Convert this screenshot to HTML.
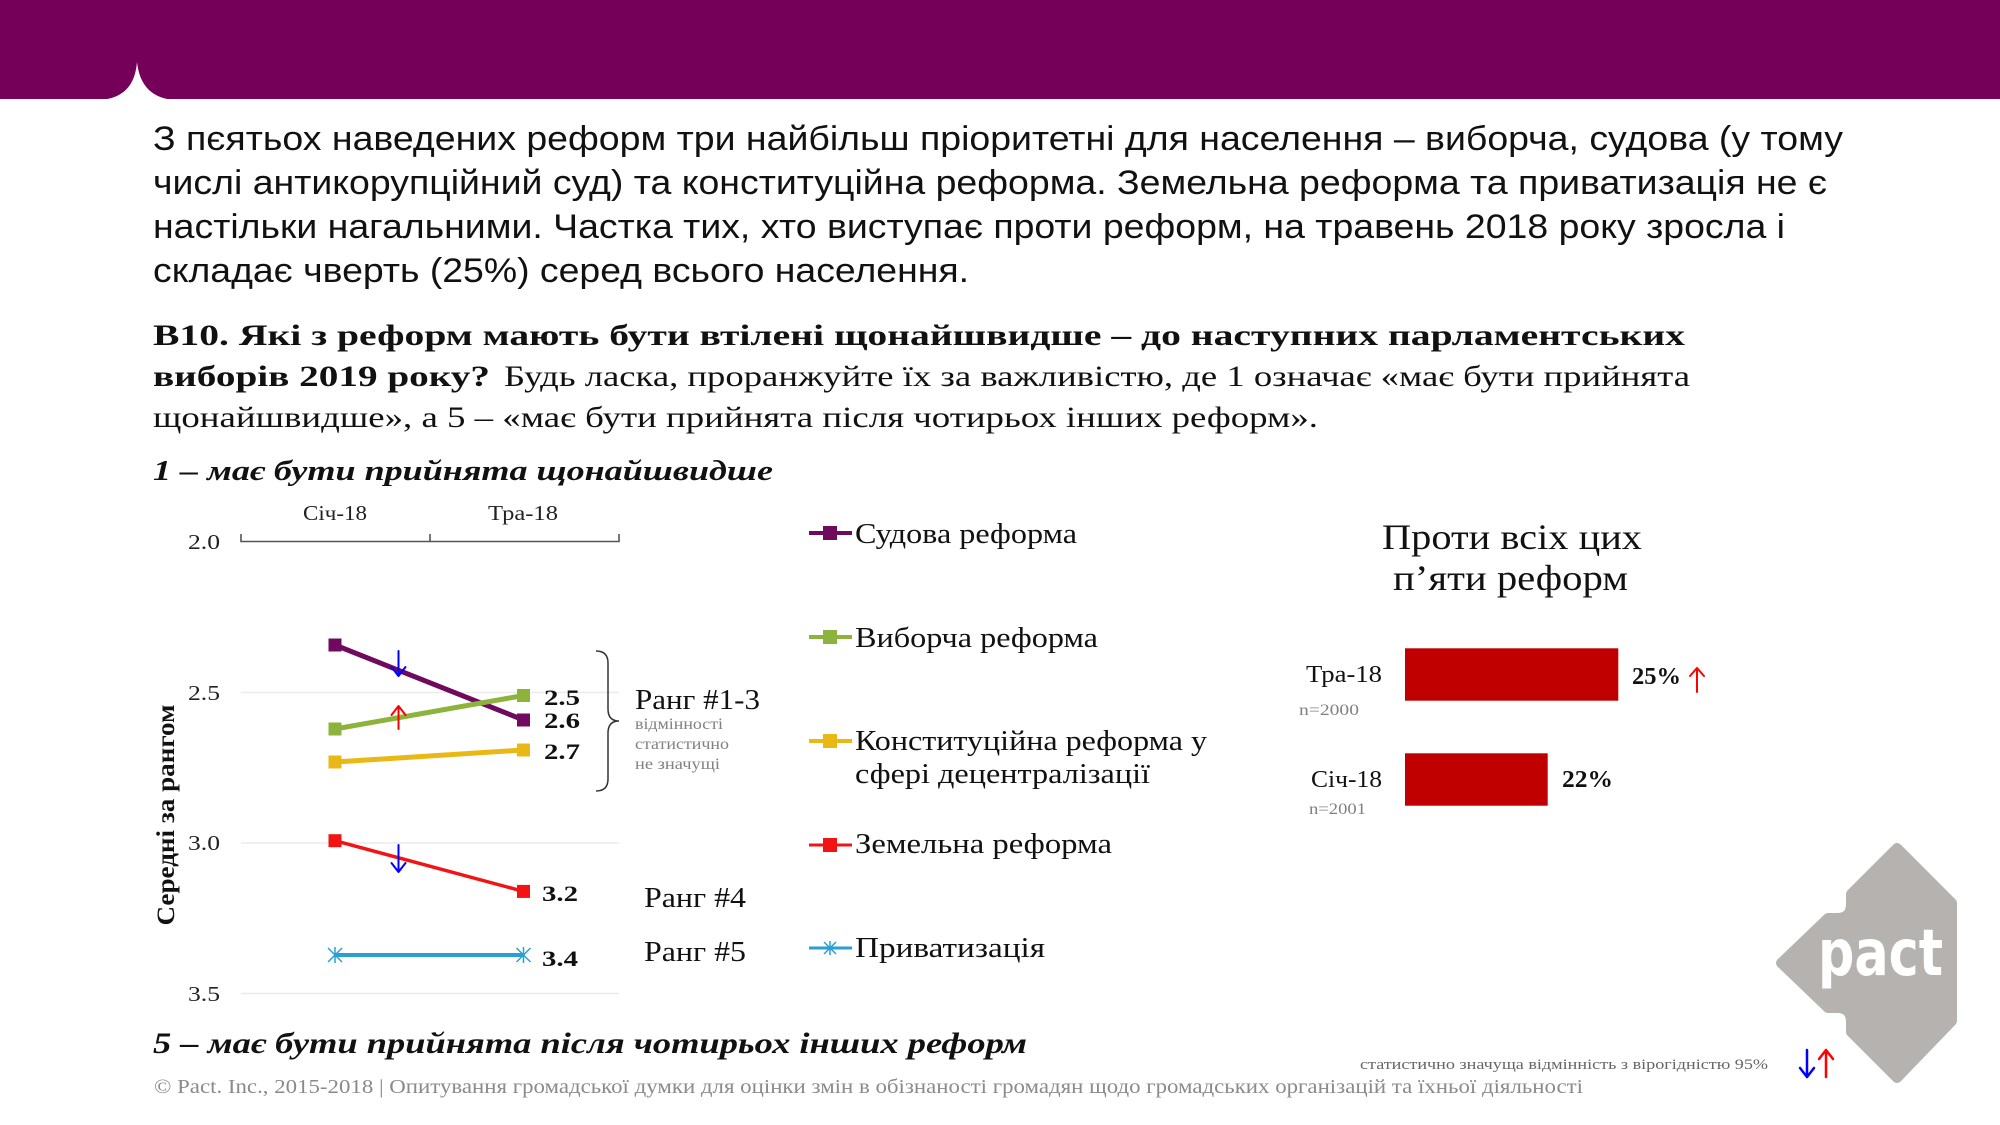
<!DOCTYPE html>
<html>
<head>
<meta charset="utf-8">
<style>
html,body{margin:0;padding:0;background:#fff;}
svg{display:block;}
.s{font-family:"Liberation Sans","DejaVu Sans",sans-serif;}
.f{font-family:"Liberation Serif","DejaVu Serif",serif;}
</style>
</head>
<body>
<svg width="2000" height="1125" viewBox="0 0 2000 1125" xmlns="http://www.w3.org/2000/svg">
<rect x="0" y="0" width="2000" height="1125" fill="#ffffff"/>
<!-- header band -->
<rect x="0" y="0" width="2000" height="99" fill="#74005a"/>
<path d="M98,100 Q134,99 137,62 Q141,99 177,100 Z" fill="#ffffff"/>

<!-- paragraph -->
<g class="s" font-size="34" fill="#111">
<text x="153" y="150" textLength="1690" lengthAdjust="spacingAndGlyphs">З пєятьох наведених реформ три найбільш пріоритетні для населення – виборча, судова (у тому</text>
<text x="153" y="194" textLength="1674" lengthAdjust="spacingAndGlyphs">числі антикорупційний суд) та конституційна реформа. Земельна реформа та приватизація не є</text>
<text x="153" y="238" textLength="1632" lengthAdjust="spacingAndGlyphs">настільки нагальними. Частка тих, хто виступає проти реформ, на травень 2018 року зросла і</text>
<text x="153" y="282" textLength="816" lengthAdjust="spacingAndGlyphs">складає чверть (25%) серед всього населення.</text>
</g>

<!-- question -->
<g class="f" font-size="30" fill="#111">
<text x="153" y="345" font-weight="bold" textLength="1532" lengthAdjust="spacingAndGlyphs">B10. Які з реформ мають бути втілені щонайшвидше – до наступних парламентських</text>
<text x="153" y="386" font-weight="bold" textLength="337" lengthAdjust="spacingAndGlyphs">виборів 2019 року?</text>
<text x="504" y="386" textLength="1186" lengthAdjust="spacingAndGlyphs">Будь ласка, проранжуйте їх за важливістю, де 1 означає «має бути прийнята</text>
<text x="153" y="427" textLength="1165" lengthAdjust="spacingAndGlyphs">щонайшвидше», а 5 – «має бути прийнята після чотирьох інших реформ».</text>
<text x="153" y="480" font-size="29" font-weight="bold" font-style="italic" textLength="620" lengthAdjust="spacingAndGlyphs">1 – має бути прийнята щонайшвидше</text>
</g>

<!-- line chart -->
<g>
<line x1="241" y1="692.5" x2="619" y2="692.5" stroke="#ebebeb" stroke-width="1.5"/>
<line x1="241" y1="843" x2="619" y2="843" stroke="#ebebeb" stroke-width="1.5"/>
<line x1="241" y1="993.5" x2="619" y2="993.5" stroke="#ebebeb" stroke-width="1.5"/>
<path d="M241,534 L241,541.5 L619,541.5 L619,534 M430,534 L430,541.5" fill="none" stroke="#555" stroke-width="1.6"/>
</g>
<g class="f" font-size="21" fill="#222">
<text x="303" y="520" textLength="64" lengthAdjust="spacingAndGlyphs">Січ-18</text>
<text x="488" y="520" textLength="70" lengthAdjust="spacingAndGlyphs">Тра-18</text>
<text x="188" y="549" textLength="32" lengthAdjust="spacingAndGlyphs">2.0</text>
<text x="188" y="700" textLength="32" lengthAdjust="spacingAndGlyphs">2.5</text>
<text x="188" y="850" textLength="32" lengthAdjust="spacingAndGlyphs">3.0</text>
<text x="188" y="1001" textLength="32" lengthAdjust="spacingAndGlyphs">3.5</text>
</g>
<text class="f" transform="translate(174,815) rotate(-90)" text-anchor="middle" font-size="25" font-weight="bold" fill="#111" textLength="221" lengthAdjust="spacingAndGlyphs">Середні за рангом</text>

<!-- series -->
<line x1="335" y1="645" x2="523.5" y2="720" stroke="#6f0a5f" stroke-width="5"/>
<line x1="335" y1="729" x2="523.5" y2="695.5" stroke="#8db33c" stroke-width="5"/>
<line x1="335" y1="762" x2="523.5" y2="750" stroke="#e9b814" stroke-width="5"/>
<line x1="335" y1="840.7" x2="523.5" y2="891.4" stroke="#f21414" stroke-width="3.5"/>
<line x1="335" y1="955" x2="523.5" y2="955" stroke="#2a9fd6" stroke-width="4"/>
<rect x="328.5" y="638.5" width="13" height="13" fill="#6f0a5f"/>
<rect x="517" y="713.5" width="13" height="13" fill="#6f0a5f"/>
<rect x="328.5" y="722.5" width="13" height="13" fill="#8db33c"/>
<rect x="517" y="689" width="13" height="13" fill="#8db33c"/>
<rect x="328.5" y="755.5" width="13" height="13" fill="#e9b814"/>
<rect x="517" y="743.5" width="13" height="13" fill="#e9b814"/>
<rect x="328.5" y="834.2" width="13" height="13" fill="#f21414"/>
<rect x="517" y="884.9" width="13" height="13" fill="#f21414"/>
<g stroke="#2a9fd6" stroke-width="1.5">
<path d="M328,948 L342,962 M342,948 L328,962 M335,947 L335,963"/>
<path d="M516.5,948 L530.5,962 M530.5,948 L516.5,962 M523.5,947 L523.5,963"/>
</g>
<!-- significance arrows -->
<g fill="none" stroke-width="2" stroke-linecap="round" stroke-linejoin="round">
<path d="M398.5,651 L398.5,676 M391.5,667 L398.5,676 L405.5,667" stroke="#0000ff"/>
<path d="M398.5,729 L398.5,706 M391.5,715 L398.5,706 L405.5,715" stroke="#ff0000"/>
<path d="M398.5,845 L398.5,872 M391.5,863 L398.5,872 L405.5,863" stroke="#0000ff"/>
</g>
<!-- data labels -->
<g class="f" font-size="22" font-weight="bold" fill="#111">
<text x="544" y="705" textLength="36" lengthAdjust="spacingAndGlyphs">2.5</text>
<text x="544" y="728" textLength="36" lengthAdjust="spacingAndGlyphs">2.6</text>
<text x="544" y="759" textLength="36" lengthAdjust="spacingAndGlyphs">2.7</text>
<text x="542" y="901" textLength="36" lengthAdjust="spacingAndGlyphs">3.2</text>
<text x="542" y="966" textLength="36" lengthAdjust="spacingAndGlyphs">3.4</text>
</g>
<!-- brace -->
<path d="M596,651 Q608,651 608,663 L608,709 Q608,721 619,721 Q608,721 608,733 L608,779 Q608,791 596,791" fill="none" stroke="#333" stroke-width="1.5"/>
<g class="f" fill="#111">
<text x="635" y="709" font-size="28" textLength="125" lengthAdjust="spacingAndGlyphs">Ранг #1-3</text>
<text x="644" y="907" font-size="28" textLength="102" lengthAdjust="spacingAndGlyphs">Ранг #4</text>
<text x="644" y="961" font-size="28" textLength="102" lengthAdjust="spacingAndGlyphs">Ранг #5</text>
</g>
<g class="f" font-size="16" fill="#808080">
<text x="635" y="729" textLength="88" lengthAdjust="spacingAndGlyphs">відмінності</text>
<text x="635" y="749" textLength="94" lengthAdjust="spacingAndGlyphs">статистично</text>
<text x="635" y="769" textLength="85" lengthAdjust="spacingAndGlyphs">не значущі</text>
</g>

<!-- legend -->
<g stroke-width="4">
<line x1="809" y1="533" x2="852" y2="533" stroke="#6f0a5f"/>
<line x1="809" y1="637" x2="852" y2="637" stroke="#8db33c"/>
<line x1="809" y1="741" x2="852" y2="741" stroke="#e9b814"/>
<line x1="809" y1="845" x2="852" y2="845" stroke="#f21414" stroke-width="3"/>
<line x1="809" y1="948" x2="852" y2="948" stroke="#2a9fd6" stroke-width="3"/>
</g>
<rect x="823" y="526" width="14" height="14" fill="#6f0a5f"/>
<rect x="823" y="630" width="14" height="14" fill="#8db33c"/>
<rect x="823" y="734" width="14" height="14" fill="#e9b814"/>
<rect x="823" y="838" width="14" height="14" fill="#f21414"/>
<path d="M824,942 L836,954 M836,942 L824,954 M830,941 L830,955" stroke="#2a9fd6" stroke-width="1.5"/>
<g class="f" font-size="29" fill="#111">
<text x="855" y="543" textLength="222" lengthAdjust="spacingAndGlyphs">Судова реформа</text>
<text x="855" y="647" textLength="243" lengthAdjust="spacingAndGlyphs">Виборча реформа</text>
<text x="855" y="750" textLength="352" lengthAdjust="spacingAndGlyphs">Конституційна реформа у</text>
<text x="855" y="783" textLength="295" lengthAdjust="spacingAndGlyphs">сфері децентралізації</text>
<text x="855" y="853" textLength="257" lengthAdjust="spacingAndGlyphs">Земельна реформа</text>
<text x="855" y="957" textLength="190" lengthAdjust="spacingAndGlyphs">Приватизація</text>
</g>

<!-- right bar chart -->
<g class="f" font-size="36" fill="#111">
<text x="1382" y="549" textLength="260" lengthAdjust="spacingAndGlyphs">Проти всіх цих</text>
<text x="1393" y="590" textLength="235" lengthAdjust="spacingAndGlyphs">п’яти реформ</text>
</g>
<rect x="1405" y="648.3" width="213.3" height="52.4" fill="#c00000"/>
<rect x="1405" y="753.3" width="142.7" height="52.4" fill="#c00000"/>
<g class="f" font-size="24" fill="#111">
<text x="1306" y="682" textLength="76" lengthAdjust="spacingAndGlyphs">Тра-18</text>
<text x="1311" y="787" textLength="71" lengthAdjust="spacingAndGlyphs">Січ-18</text>
<text x="1632" y="684" font-weight="bold" textLength="49" lengthAdjust="spacingAndGlyphs">25%</text>
<text x="1562" y="787" font-weight="bold" textLength="51" lengthAdjust="spacingAndGlyphs">22%</text>
</g>
<g class="f" font-size="16" fill="#808080">
<text x="1299" y="715" textLength="60" lengthAdjust="spacingAndGlyphs">n=2000</text>
<text x="1309" y="814" textLength="57" lengthAdjust="spacingAndGlyphs">n=2001</text>
</g>
<path d="M1697,692 L1697,668 M1690,676 L1697,668 L1704,676" fill="none" stroke="#ff0000" stroke-width="2" stroke-linecap="round" stroke-linejoin="round"/>

<!-- logo -->
<path d="M1897,848 L1952,903 L1952,1021 L1897,1078 L1851,1032 L1851,1022 Q1851,1008 1837,1008 L1828,1008 L1781,963 L1828,918 L1837,918 Q1851,918 1851,904 L1851,894 Z" fill="#b5b2b0" stroke="#b5b2b0" stroke-width="10" stroke-linejoin="round"/>
<text x="1818" y="975" font-family="'DejaVu Sans','Liberation Sans',sans-serif" font-weight="bold" font-size="64" fill="#ffffff" textLength="125" lengthAdjust="spacingAndGlyphs">pact</text>

<!-- bottom -->
<text class="f" x="153" y="1053" font-size="30" font-weight="bold" font-style="italic" fill="#111" textLength="874" lengthAdjust="spacingAndGlyphs">5 – має бути прийнята після чотирьох інших реформ</text>
<text class="f" x="1360" y="1069" font-size="15" fill="#666" textLength="408" lengthAdjust="spacingAndGlyphs">статистично значуща відмінність з вірогідністю 95%</text>
<text class="f" x="154" y="1093" font-size="20" fill="#8a8a8a" textLength="1429" lengthAdjust="spacingAndGlyphs">© Pact. Inc., 2015-2018 | Опитування громадської думки для оцінки змін в обізнаності громадян щодо громадських організацій та їхньої діяльності</text>
<g fill="none" stroke-width="2.5" stroke-linecap="round" stroke-linejoin="round">
<path d="M1807,1050 L1807,1077 M1800,1068 L1807,1077 L1814,1068" stroke="#0000ff"/>
<path d="M1826,1077 L1826,1050 M1819,1059 L1826,1050 L1833,1059" stroke="#ff0000"/>
</g>
</svg>
</body>
</html>
